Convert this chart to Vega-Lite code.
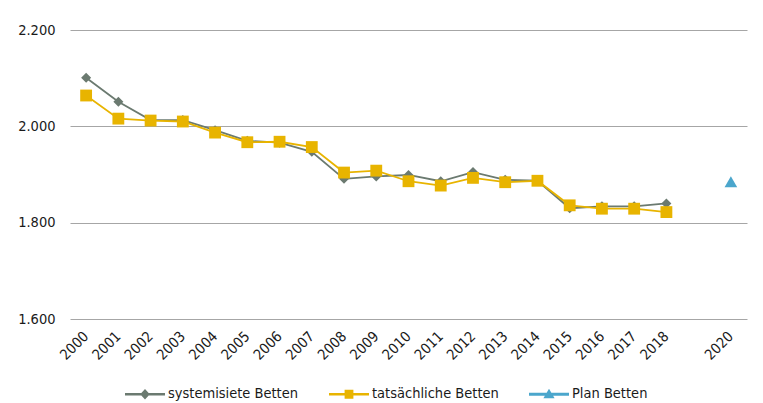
{
  "$schema": "https://vega.github.io/schema/vega-lite/v6.json",
  "width": 677,
  "height": 289,
  "autosize": {"type": "none"},
  "padding": {"left": 70, "top": 30, "right": 16, "bottom": 84},
  "background": "white",
  "config": {
    "view": {"stroke": null},
    "font": "DejaVu Sans Condensed",
    "axis": {"labelFont": "DejaVu Sans Condensed", "labelFontSize": 14.5, "labelColor": "#1a1a1a"},
    "legend": {"labelFont": "DejaVu Sans Condensed", "labelFontSize": 14.5, "labelColor": "#1a1a1a"}
  },
  "data": {
    "values": [
      {"year": "2000", "series": "systemisiete Betten", "value": 2101},
      {"year": "2001", "series": "systemisiete Betten", "value": 2051},
      {"year": "2002", "series": "systemisiete Betten", "value": 2013},
      {"year": "2003", "series": "systemisiete Betten", "value": 2013},
      {"year": "2004", "series": "systemisiete Betten", "value": 1992},
      {"year": "2005", "series": "systemisiete Betten", "value": 1970},
      {"year": "2006", "series": "systemisiete Betten", "value": 1966},
      {"year": "2007", "series": "systemisiete Betten", "value": 1947},
      {"year": "2008", "series": "systemisiete Betten", "value": 1891},
      {"year": "2009", "series": "systemisiete Betten", "value": 1896},
      {"year": "2010", "series": "systemisiete Betten", "value": 1899},
      {"year": "2011", "series": "systemisiete Betten", "value": 1886},
      {"year": "2012", "series": "systemisiete Betten", "value": 1905},
      {"year": "2013", "series": "systemisiete Betten", "value": 1889},
      {"year": "2014", "series": "systemisiete Betten", "value": 1887},
      {"year": "2015", "series": "systemisiete Betten", "value": 1830},
      {"year": "2016", "series": "systemisiete Betten", "value": 1834},
      {"year": "2017", "series": "systemisiete Betten", "value": 1834},
      {"year": "2018", "series": "systemisiete Betten", "value": 1840},
      {"year": "2000", "series": "tatsächliche Betten", "value": 2064},
      {"year": "2001", "series": "tatsächliche Betten", "value": 2016},
      {"year": "2002", "series": "tatsächliche Betten", "value": 2012},
      {"year": "2003", "series": "tatsächliche Betten", "value": 2010},
      {"year": "2004", "series": "tatsächliche Betten", "value": 1987},
      {"year": "2005", "series": "tatsächliche Betten", "value": 1967},
      {"year": "2006", "series": "tatsächliche Betten", "value": 1968},
      {"year": "2007", "series": "tatsächliche Betten", "value": 1957},
      {"year": "2008", "series": "tatsächliche Betten", "value": 1904},
      {"year": "2009", "series": "tatsächliche Betten", "value": 1908},
      {"year": "2010", "series": "tatsächliche Betten", "value": 1886},
      {"year": "2011", "series": "tatsächliche Betten", "value": 1877},
      {"year": "2012", "series": "tatsächliche Betten", "value": 1893},
      {"year": "2013", "series": "tatsächliche Betten", "value": 1884},
      {"year": "2014", "series": "tatsächliche Betten", "value": 1887},
      {"year": "2015", "series": "tatsächliche Betten", "value": 1836},
      {"year": "2016", "series": "tatsächliche Betten", "value": 1829},
      {"year": "2017", "series": "tatsächliche Betten", "value": 1829},
      {"year": "2018", "series": "tatsächliche Betten", "value": 1822},
      {"year": "2020", "series": "Plan Betten", "value": 1885}
    ]
  },
  "encoding": {
    "x": {
      "field": "year", "type": "ordinal",
      "scale": {"domain": ["2000","2001","2002","2003","2004","2005","2006","2007","2008","2009","2010","2011","2012","2013","2014","2015","2016","2017","2018","2019","2020"], "padding": 0.5},
      "axis": {"title": null, "labelAngle": -45, "labelAlign": "right", "labelBaseline": "middle", "labelPadding": 15, "ticks": false, "domain": false, "grid": false,
               "labelExpr": "datum.value == '2019' ? '' : datum.value"}
    },
    "y": {
      "field": "value", "type": "quantitative",
      "scale": {"domain": [1600, 2200], "nice": false, "zero": false},
      "axis": {"title": null, "values": [1600, 1800, 2000, 2200], "ticks": false, "domain": false, "grid": true, "gridColor": "#a6a6a6", "gridWidth": 1, "labelPadding": 15,
               "labelExpr": "replace(format(datum.value, ','), ',', '.')"}
    },
    "color": {
      "field": "series", "type": "nominal",
      "scale": {"domain": ["systemisiete Betten", "tatsächliche Betten", "Plan Betten"], "range": ["#6b7a70", "#e8b400", "#4ba6cc"]},
      "legend": {
        "title": null, "orient": "none", "legendX": 55, "legendY": 344, "direction": "horizontal",
        "symbolSize": 1600, "columnPadding": 30, "labelOffset": 3,
        "symbolType": "M-1,-0.06H1V0.06H-1Z",
        "encode": {
          "symbols": {
            "update": {
              "shape": {"signal": "datum.value == 'systemisiete Betten' ? 'M-1,-0.06H1V0.06H-1Z M0,-0.26L0.24,0L0,0.26L-0.24,0Z' : datum.value == 'tatsächliche Betten' ? 'M-1,-0.06H1V0.06H-1Z M-0.22,-0.22H0.22V0.22H-0.22Z' : 'M-1,-0.08H1V0.08H-1Z M0,-0.28L0.28,0.2H-0.28Z'"},
              "size": {"value": 1600},
              "strokeWidth": {"value": 0}
            }
          }
        }
      }
    }
  },
  "layer": [
    {"mark": {"type": "line", "strokeWidth": 1.8}},
    {
      "transform": [{"filter": "datum.series == 'systemisiete Betten'"}],
      "mark": {"type": "point", "filled": true, "opacity": 1, "shape": "diamond", "size": 100}
    },
    {
      "transform": [{"filter": "datum.series == 'tatsächliche Betten'"}],
      "mark": {"type": "point", "filled": true, "opacity": 1, "shape": "square", "size": 140}
    },
    {
      "transform": [{"filter": "datum.series == 'Plan Betten'"}],
      "mark": {"type": "point", "filled": true, "opacity": 1, "shape": "triangle-up", "size": 160}
    }
  ]
}
